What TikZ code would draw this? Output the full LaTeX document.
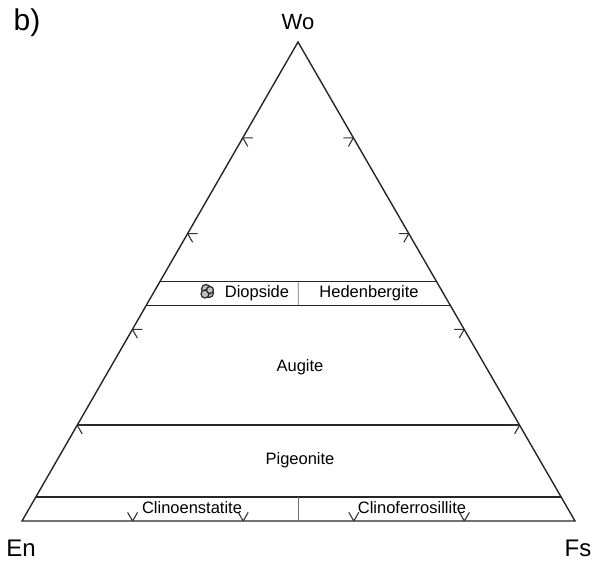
\documentclass[tikz,border=0pt]{standalone}
\usepackage{fontspec}
\setmainfont{Liberation Sans}
\usetikzlibrary{calc}
\begin{document}
\begin{tikzpicture}[x=1pt,y=-1pt,
  edge/.style={line width=1.4pt,black!85},
  bound/.style={line width=1.6pt,black!85},
  divider/.style={line width=0.9pt,black!55},
  tickmark/.style={line width=1.1pt,black!80},
  lbl/.style={font=\fontsize{16.5}{18}\selectfont,inner sep=0pt},
  clino/.style={font=\fontsize{16.5}{18}\selectfont,inner sep=0pt},
  corner/.style={font=\fontsize{24}{26}\selectfont,inner sep=0pt},
  datapt/.style={draw=black!85,fill=black!25,line width=1.2pt}]
\useasboundingbox (0,0) rectangle (593,562);
\coordinate (Wo) at (298,42);
\coordinate (En) at (22,521);
\coordinate (Fs) at (575,521);
% outer triangle
\draw[edge,line join=miter] (En) -- (Wo) -- (Fs) -- cycle;
% horizontal boundaries
\coordinate (L50) at ($(En)!0.50!(Wo)$);
\coordinate (R50) at ($(Fs)!0.50!(Wo)$);
\coordinate (L45) at ($(En)!0.45!(Wo)$);
\coordinate (R45) at ($(Fs)!0.45!(Wo)$);
\coordinate (L20) at ($(En)!0.20!(Wo)$);
\coordinate (R20) at ($(Fs)!0.20!(Wo)$);
\coordinate (L05) at ($(En)!0.05!(Wo)$);
\coordinate (R05) at ($(Fs)!0.05!(Wo)$);
\draw[bound] (L50) -- (R50);
\draw[bound] (L45) -- (R45);
\draw[bound] (L20) -- (R20);
\draw[bound] (L05) -- (R05);
% vertical dividers
\coordinate (M50) at ($(L50)!0.5!(R50)$);
\coordinate (M45) at ($(L45)!0.5!(R45)$);
\coordinate (M05) at ($(L05)!0.5!(R05)$);
\coordinate (M00) at ($(En)!0.5!(Fs)$);
\draw[divider] (M50) -- (M45);
\draw[divider] (M05) -- (M00);
% ticks
\foreach \w in {0.2,0.4,0.6,0.8}{
  \draw[tickmark] ($(En)!\w!(Wo)$) coordinate (t) -- ++(10,0) (t) -- ++(60:10);
  \draw[tickmark] ($(Fs)!\w!(Wo)$) coordinate (t) -- ++(-10,0) (t) -- ++(120:10);
  \draw[tickmark] ($(En)!\w!(Fs)$) coordinate (t) -- ++(-60:10) (t) -- ++(-120:10);
}
% data points
\draw[datapt] (206,289) circle (4.5);
\draw[datapt] (209,293) circle (4.5);
\draw[datapt] (205,294) circle (4);
\draw[datapt] (210,290) circle (3.5);
% labels
\node[lbl] (diop) at (257,293) {Diopside};
\node[lbl] (hed) at (369,293) {Hedenbergite};
\node[lbl] (aug) at (300,367) {Augite};
\node[lbl] (pig) at (300,460) {Pigeonite};
\node[clino] (cen) at (192,508) {Clinoenstatite};
\node[clino] (cfs) at (412,508) {Clinoferrosillite};
\node[font=\fontsize{22}{24}\selectfont,inner sep=0pt] (wolab) at (298,22) {Wo};
\node[corner] (enlab) at (21,548) {En};
\node[corner] (fslab) at (578,548) {Fs};
\node[font=\fontsize{30}{32}\selectfont,inner sep=0pt] (blab) at (27,23) {b)};
\end{tikzpicture}
\end{document}
